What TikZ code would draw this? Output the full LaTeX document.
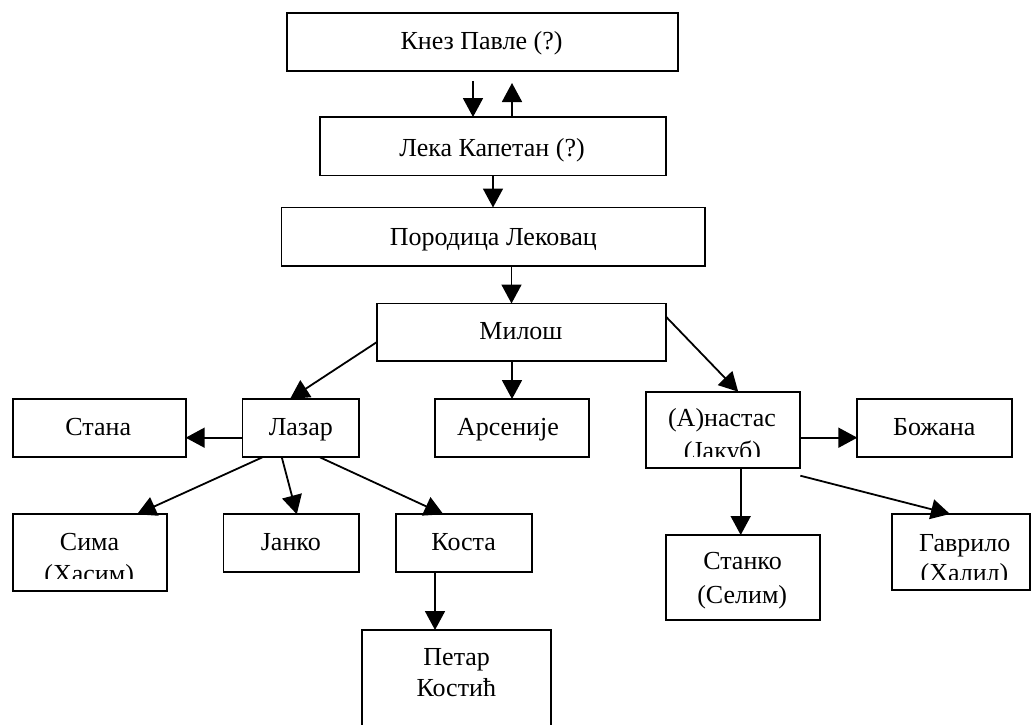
\documentclass[tikz,border=0pt]{standalone}
\usepackage{fontspec}
\setmainfont{Liberation Serif}
\usetikzlibrary{arrows.meta}
\begin{document}
\begin{tikzpicture}[x=1pt,y=-1pt,
  box/.style={draw, line width=1.8pt, inner sep=0pt, outer sep=0pt},
  txt/.style={anchor=base, inner sep=0pt, outer sep=0pt, font=\fontsize{26}{31}\selectfont},
  arr/.style={line width=1.8pt, -{Triangle[length=19pt,width=20pt]}}]
\clip (0,0) rectangle (1031,725);
% boxes
\node[box, minimum width=391pt, minimum height=58pt]   (knez)   at (482.5,42) {};
\node[box, minimum width=346pt, minimum height=58.5pt] (leka)   at (493,146.3) {};
\node[box, minimum width=423.5pt, minimum height=58.2pt] (porod) at (493.3,236.6) {};
\node[box, minimum width=289pt, minimum height=57.8pt] (milosh) at (521.5,332.4) {};
\node[box, minimum width=173pt, minimum height=58.3pt] (stana)  at (99.2,428.2) {};
\node[box, minimum width=116.5pt, minimum height=58.3pt] (lazar) at (300.8,428.2) {};
\node[box, minimum width=154.3pt, minimum height=58.3pt] (arsen) at (512.2,428.2) {};
\node[box, minimum width=154.3pt, minimum height=76pt] (anast)  at (723.2,429.7) {};
\node[box, minimum width=154.4pt, minimum height=58.3pt] (bozana) at (934.5,428.2) {};
\node[box, minimum width=154pt, minimum height=76.4pt] (sima)   at (89.7,552.5) {};
\node[box, minimum width=135.5pt, minimum height=58pt] (janko)  at (291.3,543.3) {};
\node[box, minimum width=135.7pt, minimum height=58pt] (kosta)  at (463.9,543.3) {};
\node[box, minimum width=188.7pt, minimum height=130pt] (petar) at (456.7,695) {};
\node[box, minimum width=154.3pt, minimum height=85pt] (stanko) at (742.9,577.5) {};
\node[box, minimum width=138.3pt, minimum height=76pt] (gavr)   at (960.9,552) {};
% texts
\node[txt] (knez-t)   at (481.5,50)  {Кнез Павле (?)};
\node[txt] (leka-t)   at (492,156)   {Лека Капетан (?)};
\node[txt] (porod-t)  at (493.3,245) {Породица Лековац};
\node[txt] (milosh-t) at (521,339)   {Милош};
\node[txt] (stana-t)  at (98.3,435)  {Стана};
\node[txt] (lazar-t)  at (300.8,435) {Лазар};
\node[txt] (arsen-t)  at (508,435)   {Арсеније};
\node[txt] (bozana-t) at (934.3,435) {Божана};
\node[txt] (janko-t)  at (290.8,550) {Јанко};
\node[txt] (kosta-t)  at (463.7,550) {Коста};
\node[txt] (petar-t1) at (456.7,665) {Петар};
\node[txt] (petar-t2) at (456.3,696) {Костић};
\node[txt] (stanko-t1) at (742.5,569) {Станко};
\node[txt] (stanko-t2) at (742.2,603) {(Селим)};
\node[txt] (anast-t1) at (722,426)   {(А)настас};
\begin{scope}
  \clip (646,391.7) rectangle (800.3,456.7);
  \node[txt] (anast-t2) at (722.5,459) {(Јакуб)};
\end{scope}
\node[txt] (sima-t1) at (89.5,550) {Сима};
\begin{scope}
  \clip (12.7,514.3) rectangle (166.7,578.3);
  \node[txt] (sima-t2) at (89.2,582) {(Хасим)};
\end{scope}
\node[txt] (gavr-t1) at (964.7,551.7) {Гаврило};
\begin{scope}
  \clip (891.7,514) rectangle (1030,579);
  \node[txt] (gavr-t2) at (964.5,581) {(Халил)};
\end{scope}
% connectors
\draw[arr] ([xshift=-9.5pt,yshift=-10pt]knez.south) -- ([xshift=-20pt]leka.north);
\draw[arr] ([xshift=19pt]leka.north) -- ([xshift=29.5pt,yshift=-12pt]knez.south);
\draw[arr] (leka.south) -- (leka.south |- porod.north);
\draw[arr] ([xshift=18.2pt]porod.south) -- ([xshift=-10pt]milosh.north);
\draw[arr] ([yshift=-9.6pt]milosh.west) -- ([xshift=-10.8pt]lazar.north);
\draw[arr] ([xshift=-9.5pt]milosh.south) -- ([xshift=-9.5pt]milosh.south |- arsen.north);
\draw[arr] ([yshift=15.7pt]milosh.east) -- ([xshift=15pt]anast.north);
\draw[arr] ([yshift=-9.5pt]lazar.west) -- ([yshift=-9.5pt]lazar.west -| stana.east);
\draw[arr] ([xshift=-38.5pt]lazar.south) -- ([xshift=47.3pt]sima.north);
\draw[arr] ([xshift=-19pt]lazar.south) -- ([xshift=5.5pt]janko.north);
\draw[arr] ([xshift=19.2pt]lazar.south) -- ([xshift=-20.5pt]kosta.north);
\draw[arr] ([xshift=-28.9pt]kosta.south) -- ([xshift=-28.9pt]kosta.south |- petar.north);
\draw[arr] ([yshift=-8pt]anast.east) -- ([yshift=-8pt]anast.east -| bozana.west);
\draw[arr] ([xshift=17.5pt]anast.south) -- ([xshift=17.5pt]anast.south |- stanko.north);
\draw[arr] ([yshift=-8pt]anast.south east) -- ([xshift=-10.9pt]gavr.north);
\end{tikzpicture}
\end{document}
